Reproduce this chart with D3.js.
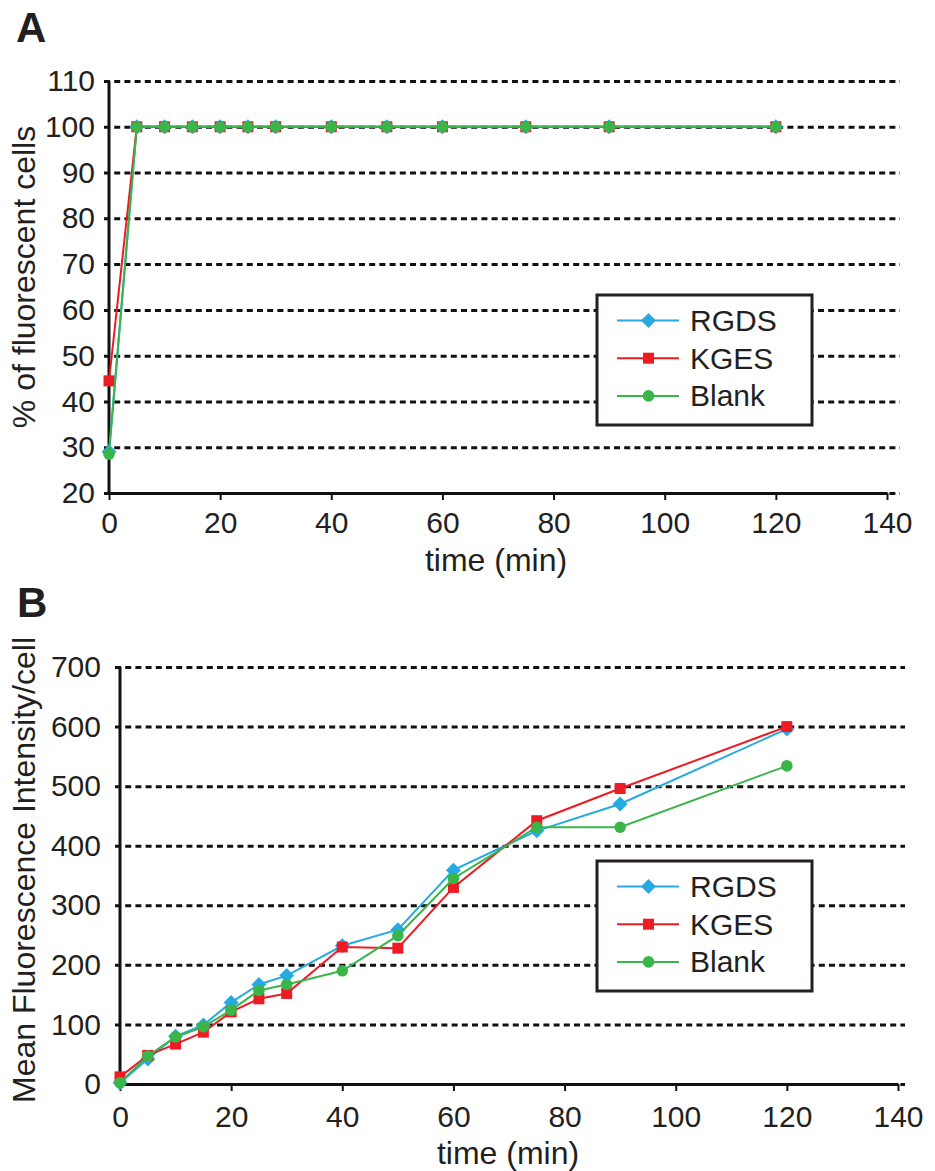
<!DOCTYPE html>
<html>
<head>
<meta charset="utf-8">
<script src="https://cdn.jsdelivr.net/npm/d3@7"></script>
<style>
  html, body { margin: 0; padding: 0; background: #fff; }
  svg { display: block; }
  text { font-family: "Liberation Sans", Arial, Helvetica, sans-serif; fill: #231f20; }
</style>
</head>
<body>
<script>
// ---------------- DATA ----------------
const times = [0, 5, 10, 15, 20, 25, 30, 40, 50, 60, 75, 90, 120];
const seriesNames = ["RGDS", "KGES", "Blank"];

// Panel A: % of fluorescent cells
const pctRGDS  = [29, 100, 100, 100, 100, 100, 100, 100, 100, 100, 100, 100, 100];
const pctKGES  = [44.5, 100, 100, 100, 100, 100, 100, 100, 100, 100, 100, 100, 100];
const pctBlank = [28.5, 100, 100, 100, 100, 100, 100, 100, 100, 100, 100, 100, 100];

// Panel B: Mean fluorescence intensity / cell
const mfiRGDS  = [2, 42, 80, 99, 137, 167, 182, 232, 259, 359, 425, 470, 596];
const mfiKGES  = [12, 48, 67, 87, 121, 143, 152, 230, 228, 330, 442, 496, 600];
const mfiBlank = [2, 47, 79, 96, 124, 157, 167, 190, 249, 345, 431, 431, 534];

const xTicks = [0, 20, 40, 60, 80, 100, 120, 140];
const yTicksA = [20, 30, 40, 50, 60, 70, 80, 90, 100, 110];
const yTicksB = [0, 100, 200, 300, 400, 500, 600, 700];

const xTitle = "time (min)";
const yTitleA = "% of fluorescent cells";
const yTitleB = "Mean Fluorescence Intensity/cell";

// ---------------- STYLE ----------------
const colors = { RGDS: "#27aae1", KGES: "#ed1c24", Blank: "#39b54a" };
const shapes = { RGDS: "diamond", KGES: "square", Blank: "circle" };

const W = 935, H = 1171;
const svg = d3.select("body").append("svg").attr("width", W).attr("height", H);

function marker(g, shape, color, cx, cy) {
  if (shape === "diamond") {
    const r = 7.5;
    g.append("path").attr("d", `M${cx},${cy - r}L${cx + r},${cy}L${cx},${cy + r}L${cx - r},${cy}Z`).attr("fill", color);
  } else if (shape === "square") {
    const s = 11;
    g.append("rect").attr("x", cx - s / 2).attr("y", cy - s / 2).attr("width", s).attr("height", s).attr("fill", color);
  } else {
    g.append("circle").attr("cx", cx).attr("cy", cy).attr("r", 5.8).attr("fill", color);
  }
}

function drawPanel(cfg) {
  const g = svg.append("g");
  const x = d3.scaleLinear().domain([0, 140]).range([cfg.x0, cfg.x1]);
  const y = d3.scaleLinear().domain(cfg.yDomain).range([cfg.y0, cfg.y1]);

  // y axis with gridlines
  const yAxis = d3.axisLeft(y).tickValues(cfg.yTicks).tickSize(-(cfg.gridRight - cfg.x0)).tickPadding(cfg.yPad);
  const ya = g.append("g").attr("transform", `translate(${cfg.x0},0)`).call(yAxis);
  ya.select(".domain").remove();
  ya.selectAll(".tick line")
    .attr("x1", -5)
    .attr("stroke", "#111")
    .attr("stroke-width", 3)
    .attr("stroke-dasharray", "6,4.2");
  ya.selectAll(".tick text").attr("font-size", 30).attr("fill", "#231f20")
    .style("font-family", '"Liberation Sans", Arial, sans-serif');

  // x axis
  const xAxis = d3.axisBottom(x).tickValues(xTicks).tickSizeInner(7).tickSizeOuter(0).tickPadding(0);
  const xa = g.append("g").attr("transform", `translate(0,${cfg.y0})`).call(xAxis);
  xa.select(".domain").attr("stroke", "#111").attr("stroke-width", 3);
  xa.selectAll(".tick line").attr("stroke", "#111").attr("stroke-width", 2);
  xa.selectAll(".tick text").attr("font-size", 30).attr("fill", "#231f20")
    .attr("y", cfg.xLabelBase).attr("dy", 0)
    .style("font-family", '"Liberation Sans", Arial, sans-serif');

  // y axis line (solid)
  g.append("line").attr("x1", cfg.x0).attr("x2", cfg.x0)
    .attr("y1", cfg.y1).attr("y2", cfg.y0 + 1.5)
    .attr("stroke", "#111").attr("stroke-width", 3);

  // titles
  g.append("text").attr("x", cfg.xTitleX).attr("y", cfg.xTitleBase)
    .attr("text-anchor", "middle").attr("font-size", 32).text(xTitle);
  g.append("text").attr("transform", `translate(${cfg.yTitleX},${cfg.yTitleY}) rotate(-90)`)
    .attr("text-anchor", "middle").attr("font-size", 32).text(cfg.yTitle);
  g.append("text").attr("x", cfg.labelX).attr("y", cfg.labelY)
    .attr("font-size", 42).attr("font-weight", "bold").attr("fill", "#231f20").text(cfg.label);

  // series
  const line = d3.line().x((d, i) => x(times[i])).y(d => y(d));
  cfg.series.forEach(s => {
    g.append("path").datum(s.values).attr("d", line)
      .attr("fill", "none").attr("stroke", colors[s.name]).attr("stroke-width", 2);
    const mg = g.append("g");
    s.values.forEach((v, i) => marker(mg, shapes[s.name], colors[s.name], x(times[i]), y(v)));
  });

  // legend
  const lg = g.append("g");
  lg.append("rect").attr("x", cfg.legX).attr("y", cfg.legY).attr("width", 215).attr("height", 130)
    .attr("fill", "#fff").attr("stroke", "#231f20").attr("stroke-width", 3);
  seriesNames.forEach((n, i) => {
    const ly = cfg.legY + 25.5 + i * 37.7;
    lg.append("line").attr("x1", cfg.legX + 20).attr("x2", cfg.legX + 82)
      .attr("y1", ly).attr("y2", ly).attr("stroke", colors[n]).attr("stroke-width", 2);
    marker(lg, shapes[n], colors[n], cfg.legX + 51.5, ly);
    lg.append("text").attr("x", cfg.legX + 93).attr("y", ly + 10.5)
      .attr("font-size", 30).text(n);
  });
}

drawPanel({
  label: "A", labelX: 16, labelY: 42,
  x0: 109, x1: 887, y0: 493, y1: 81, yDomain: [20, 110], yTicks: yTicksA, yPad: 14,
  gridRight: 900, xLabelBase: 40, xTitleBase: 571, xTitleX: 496,
  yTitle: yTitleA, yTitleX: 35, yTitleY: 277,
  legX: 597, legY: 295,
  series: [
    { name: "RGDS", values: pctRGDS },
    { name: "KGES", values: pctKGES },
    { name: "Blank", values: pctBlank }
  ]
});

drawPanel({
  label: "B", labelX: 17, labelY: 617,
  x0: 120, x1: 898, y0: 1084, y1: 667, yDomain: [0, 700], yTicks: yTicksB, yPad: 19,
  gridRight: 905, xLabelBase: 43, xTitleBase: 1164, xTitleX: 508,
  yTitle: yTitleB, yTitleX: 35, yTitleY: 870,
  legX: 597, legY: 861,
  series: [
    { name: "RGDS", values: mfiRGDS },
    { name: "KGES", values: mfiKGES },
    { name: "Blank", values: mfiBlank }
  ]
});
</script>
</body>
</html>
